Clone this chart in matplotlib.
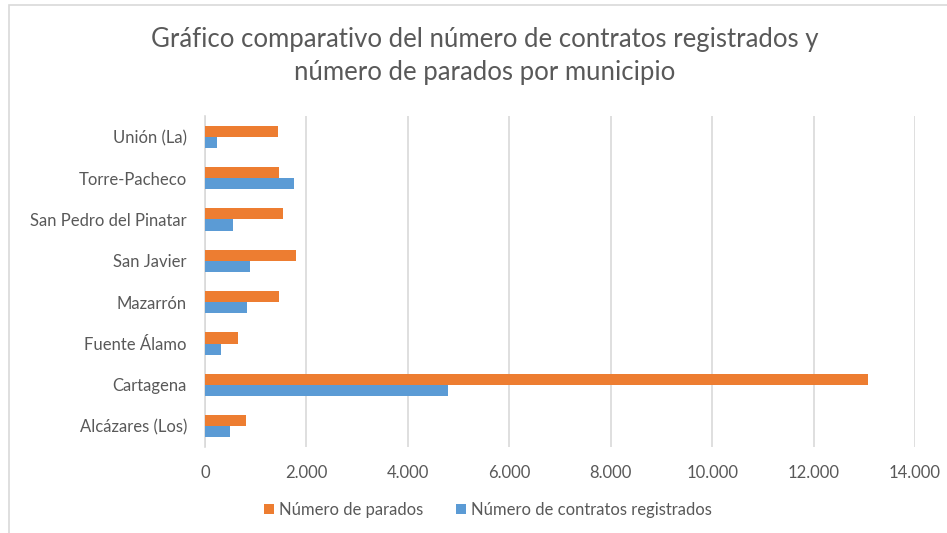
import matplotlib.pyplot as plt
import matplotlib.ticker as mticker
from matplotlib.patches import Rectangle
import numpy as np

plt.rcParams['font.family'] = ['Lato', 'DejaVu Sans']

municipios = ['Alcázares (Los)', 'Cartagena', 'Fuente Álamo', 'Mazarrón',
              'San Javier', 'San Pedro del Pinatar', 'Torre-Pacheco', 'Unión (La)']
parados = [800, 13070, 650, 1460, 1790, 1540, 1450, 1430]
contratos = [490, 4800, 325, 820, 895, 550, 1760, 230]

orange = '#ed7d31'
blue = '#5b9bd5'
txt = '#595959'

fig = plt.figure(figsize=(9.47, 5.33), dpi=100)
ax = fig.add_axes([205/947, 1-447/533, 710/947, 331/533])

y = np.arange(len(municipios))
h = 0.27
ax.barh(y + h/2, parados, height=h, color=orange, label='Número de parados', zorder=3)
ax.barh(y - h/2, contratos, height=h, color=blue, label='Número de contratos registrados', zorder=3)

ax.set_xlim(0, 14000)
ax.set_ylim(-0.5, len(municipios) - 0.5)
ax.set_xticks(np.arange(0, 14001, 2000))
ax.xaxis.set_major_formatter(mticker.FuncFormatter(lambda v, p: f'{int(v):,}'.replace(',', '.')))
ax.set_yticks(y)
ax.set_yticklabels(municipios)
ax.tick_params(axis='both', length=0, labelsize=12, labelcolor=txt)
ax.tick_params(axis='x', pad=13)
ax.tick_params(axis='y', pad=13)
ax.grid(axis='x', color='#d9d9d9', linewidth=1.2, zorder=0)
for s in ['top', 'right', 'bottom']:
    ax.spines[s].set_visible(False)
ax.spines['left'].set_color('#d9d9d9')
ax.spines['left'].set_linewidth(1.2)

fig.text(485/947, 1-56/533, 'Gráfico comparativo del número de contratos registrados y\nnúmero de parados por municipio',
         ha='center', va='center', fontsize=18.5, color=txt, linespacing=1.4)

handles, labels = ax.get_legend_handles_labels()
fig.legend(handles, labels, loc='center', bbox_to_anchor=(488/947, 1-510/533), ncol=2, frameon=False,
           fontsize=12, labelcolor=txt, handlelength=0.6, handleheight=0.6, handletextpad=0.3,
           columnspacing=2.0)

fig.patches.append(Rectangle((9/947, -0.1), 1.2, 1.1 - 5/533, transform=fig.transFigure,
                             fill=False, edgecolor='#d9d9d9', linewidth=1.2))

fig.savefig('out.png', dpi=100)
